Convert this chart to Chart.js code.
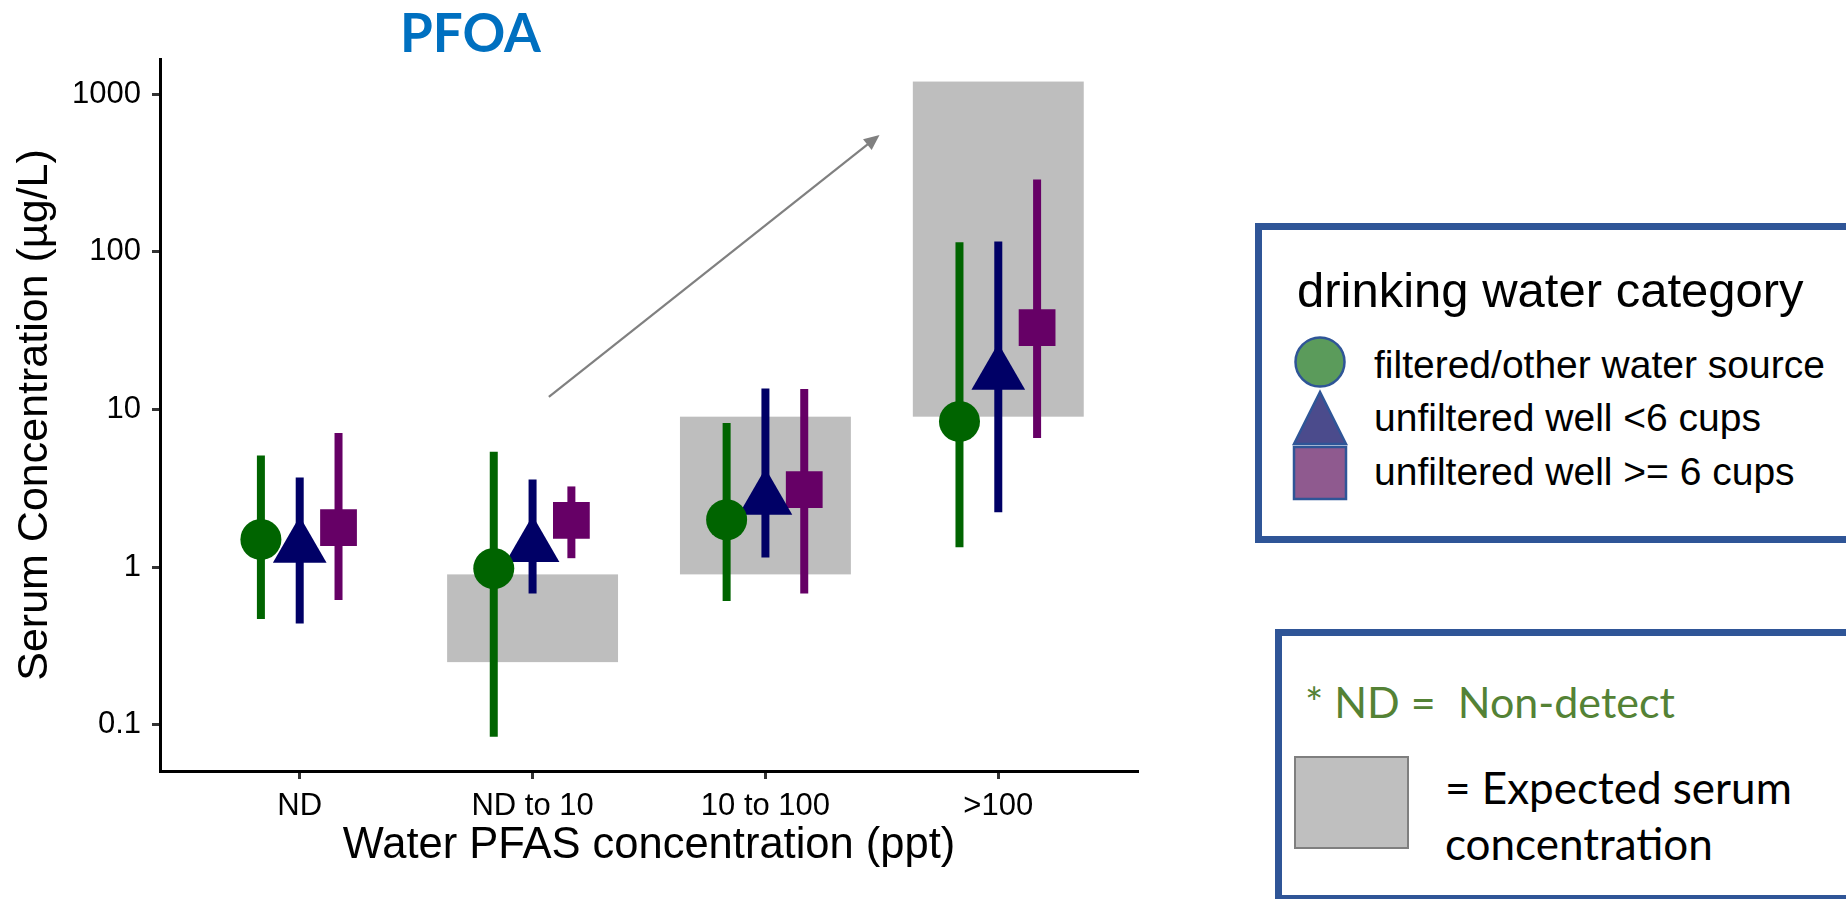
<!DOCTYPE html>
<html>
<head>
<meta charset="utf-8">
<title>PFOA serum vs water concentration</title>
<script src="https://cdn.jsdelivr.net/npm/chart.js@4.4.1/dist/chart.umd.min.js"></script>
<style>
  body { margin: 0; width: 1846px; height: 899px; overflow: hidden; background: #fff; position: relative; }
  #pfoaChart { position: absolute; left: 0; top: 0; }
  .txt { position: absolute; white-space: nowrap; line-height: 1; }
  .gg { font-family: "Liberation Sans", Arial, sans-serif; color: #000; }
  .cal { font-family: Lato, "Open Sans", sans-serif; color: #000; }
  .box { position: absolute; border: 7px solid #2F5597; box-sizing: border-box; background: #fff; }
</style>
</head>
<body>
<canvas id="pfoaChart" width="1846" height="899"></canvas>

<div class="txt cal" style="left:400px; top:5px; font-size:53px; font-weight:700; color:#0070C0;">PFOA</div>

<div class="box" style="left:1255px; top:223px; width:620px; height:320px;"></div>
<div class="txt gg" style="left:1297px; top:266px; font-size:49px;">drinking water category</div>
<svg style="position:absolute; left:1290px; top:334px;" width="60" height="170">
  <circle cx="30" cy="28" r="24.5" fill="#5B9B5B" stroke="#2F5597" stroke-width="2.5"/>
  <polygon points="30,58 4,110 56,110" fill="#4B4B8C" stroke="#2F5597" stroke-width="2.5"/>
  <rect x="4" y="113" width="52" height="52" fill="#8F5A8F" stroke="#2F5597" stroke-width="2.5"/>
</svg>
<div class="txt gg" id="lg0" style="left:1374px; top:345px; font-size:39px;"></div>
<div class="txt gg" id="lg1" style="left:1374px; top:398px; font-size:39px;"></div>
<div class="txt gg" id="lg2" style="left:1374px; top:452px; font-size:39px;"></div>

<div class="box" style="left:1275px; top:629px; width:600px; height:273px;"></div>
<div class="txt cal" style="left:1305px; top:680px; font-size:43px; color:#548235;">* ND =&nbsp; Non-detect</div>
<div style="position:absolute; left:1294px; top:756px; width:111px; height:89px; background:#BFBFBF; border:2px solid #7F7F7F;"></div>
<div class="txt cal" style="left:1445px; top:765px; font-size:44px;">= Expected serum</div>
<div class="txt cal" style="left:1445px; top:821px; font-size:44px;">concentration</div>

<script>
document.addEventListener('DOMContentLoaded', function () {
    // categories on the x axis (water PFAS concentration)
    const categories = ['ND', 'ND to 10', '10 to 100', '>100'];
    const seriesNames = ['filtered/other water source', 'unfiltered well <6 cups', 'unfiltered well >= 6 cups'];

    // serum PFOA (ug/L): point estimate and interval, per category
    const filteredMid = [1.50, 0.98, 2.0, 8.4];
    const filteredLow = [0.47, 0.084, 0.61, 1.34];
    const filteredHigh = [5.1, 5.4, 8.2, 115];

    const under6Mid = [1.34, 1.35, 2.7, 16.7];
    const under6Low = [0.44, 0.68, 1.15, 2.23];
    const under6High = [3.7, 3.6, 13.6, 116];

    const over6Mid = [1.78, 1.98, 3.1, 33];
    const over6Low = [0.62, 1.14, 0.68, 6.6];
    const over6High = [7.1, 3.25, 13.5, 287];

    // expected serum concentration range (grey boxes)
    const expectedLow = [null, 0.25, 0.9, 9];
    const expectedHigh = [null, 0.9, 9, 1200];

    const yTicks = [0.1, 1, 10, 100, 1000];

    // trend arrow, in data units (x = category position, y = ug/L)
    const arrowFrom = [1.07, 12];
    const arrowTo = [2.49, 550];

    seriesNames.forEach((n, i) => { document.getElementById('lg' + i).textContent = n; });

    const dodge = 1 / 6;
    function makeSeries(label, mid, low, high, k, color, style, radius) {
        return {
            label: label,
            data: mid.map((v, i) => ({ x: i + (k - 1) * dodge, y: v })),
            errLow: low,
            errHigh: high,
            errColor: color,
            backgroundColor: color,
            borderWidth: 0,
            pointStyle: style,
            pointRadius: radius,
            pointHoverRadius: radius,
            showLine: false
        };
    }

    // grey expected ranges, error bars and the trend arrow
    const decorations = {
        id: 'decorations',
        beforeDatasetsDraw(chart) {
            const ctx = chart.ctx;
            const xs = chart.scales.x, ys = chart.scales.y;
            ctx.save();
            ctx.fillStyle = '#BEBEBE';
            categories.forEach((c, i) => {
                if (expectedLow[i] == null) return;
                const x0 = xs.getPixelForValue(i - 0.367);
                const x1 = xs.getPixelForValue(i + 0.367);
                const y0 = ys.getPixelForValue(expectedHigh[i]);
                const y1 = ys.getPixelForValue(expectedLow[i]);
                ctx.fillRect(x0, y0, x1 - x0, y1 - y0);
            });
            ctx.lineWidth = 8;
            ctx.lineCap = 'butt';
            chart.data.datasets.forEach(ds => {
                ctx.strokeStyle = ds.errColor;
                ds.data.forEach((p, i) => {
                    const x = xs.getPixelForValue(p.x);
                    ctx.beginPath();
                    ctx.moveTo(x, ys.getPixelForValue(ds.errLow[i]));
                    ctx.lineTo(x, ys.getPixelForValue(ds.errHigh[i]));
                    ctx.stroke();
                });
            });
            ctx.restore();
        },
        afterDatasetsDraw(chart) {
            const ctx = chart.ctx;
            const xs = chart.scales.x, ys = chart.scales.y;
            const ax = xs.getPixelForValue(arrowFrom[0]), ay = ys.getPixelForValue(arrowFrom[1]);
            const bx = xs.getPixelForValue(arrowTo[0]), by = ys.getPixelForValue(arrowTo[1]);
            const ang = Math.atan2(by - ay, bx - ax);
            const head = 17;
            ctx.save();
            ctx.strokeStyle = '#808080';
            ctx.fillStyle = '#808080';
            ctx.lineWidth = 2.2;
            ctx.beginPath();
            ctx.moveTo(ax, ay);
            ctx.lineTo(bx - Math.cos(ang) * head * 0.8, by - Math.sin(ang) * head * 0.8);
            ctx.stroke();
            ctx.beginPath();
            ctx.moveTo(bx, by);
            ctx.lineTo(bx - head * Math.cos(ang - 0.42), by - head * Math.sin(ang - 0.42));
            ctx.lineTo(bx - head * Math.cos(ang + 0.42), by - head * Math.sin(ang + 0.42));
            ctx.closePath();
            ctx.fill();
            ctx.restore();
        }
    };

    const ctx = document.getElementById('pfoaChart').getContext('2d');
    new Chart(ctx, {
        type: 'scatter',
        data: {
            datasets: [
                makeSeries(seriesNames[0], filteredMid, filteredLow, filteredHigh, 0, '#006400', 'circle', 20.5),
                makeSeries(seriesNames[1], under6Mid, under6Low, under6High, 1, '#000066', 'triangle', 31),
                makeSeries(seriesNames[2], over6Mid, over6Low, over6High, 2, '#660066', 'rect', 26)
            ]
        },
        options: {
            responsive: false,
            animation: false,
            events: [],
            devicePixelRatio: 1,
            layout: { padding: { top: 59, right: 708, left: 0, bottom: 0 } },
            plugins: {
                legend: { display: false },
                tooltip: { enabled: false },
                title: { display: false }
            },
            scales: {
                x: {
                    type: 'linear',
                    min: -0.6,
                    max: 3.6,
                    afterBuildTicks: s => { s.ticks = categories.map((c, i) => ({ value: i })); },
                    afterFit: s => { s.height = 128; },
                    ticks: {
                        callback: v => categories[v],
                        font: { family: 'Liberation Sans', size: 31 },
                        color: '#000',
                        padding: 9,
                        autoSkip: false,
                        maxRotation: 0
                    },
                    grid: { drawOnChartArea: false, tickLength: 8, tickWidth: 3, tickColor: '#333' },
                    border: { color: '#000', width: 3 },
                    title: {
                        display: true,
                        text: 'Water PFAS concentration (ppt)',
                        font: { family: 'Liberation Sans', size: 43.5 },
                        color: '#000',
                        padding: { top: 0, bottom: 27 }
                    }
                },
                y: {
                    type: 'logarithmic',
                    min: 0.051,
                    max: 1668,
                    afterBuildTicks: s => { s.ticks = yTicks.map(v => ({ value: v })); },
                    afterFit: s => { s.width = 160; },
                    ticks: {
                        callback: v => String(v),
                        font: { family: 'Liberation Sans', size: 31 },
                        color: '#000',
                        padding: 11
                    },
                    grid: { drawOnChartArea: false, tickLength: 8, tickWidth: 3, tickColor: '#333' },
                    border: { color: '#000', width: 3 },
                    title: {
                        display: true,
                        text: 'Serum Concentration (µg/L)',
                        font: { family: 'Liberation Sans', size: 43 },
                        color: '#000',
                        padding: { top: 9, bottom: 0 }
                    }
                }
            }
        },
        plugins: [decorations]
    });
});
</script>
</body>
</html>
